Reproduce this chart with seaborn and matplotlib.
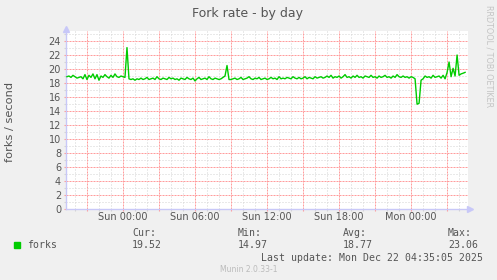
import numpy as np
import pandas as pd
import matplotlib
matplotlib.use("Agg")
import matplotlib.pyplot as plt
from matplotlib.ticker import MultipleLocator, FuncFormatter
import seaborn as sns

# ---- data (fork rate samples, one every 10 minutes) ----
start_hour = -4.64          # hours relative to Sun 00:00
step_hours = 1.0 / 6.0
forks = [
    18.9, 19.0, 18.8, 19.1, 18.9, 18.7, 18.8, 18.9, 18.6, 19.2,
    18.5, 19.1, 18.8, 19.3, 18.6, 19.2, 18.4, 19.0, 18.8, 19.2,
    18.9, 18.7, 19.1, 18.8, 19.3, 18.9, 18.8, 19.0, 18.9, 18.8,
    23.06, 18.6,
    18.5, 18.6, 18.4, 18.6, 18.5, 18.7, 18.5, 18.6, 18.8, 18.5,
    18.6, 18.7, 18.5, 18.9, 18.6, 18.5, 18.7, 18.6, 18.5, 18.8,
    18.6, 18.7, 18.5, 18.6, 18.4, 18.7, 18.6, 18.5, 18.8, 18.6,
    18.5, 18.7, 18.3, 18.6, 18.8, 18.5, 18.6, 18.7, 18.5, 18.9,
    18.6, 18.5, 18.7, 18.6, 18.5, 18.6, 18.8, 19.0,
    20.5, 18.5,
    18.5, 18.6, 18.7, 18.5, 18.6, 18.8, 18.5, 18.6, 18.7, 18.9,
    18.6, 18.5, 18.7, 18.6, 18.8, 18.5, 18.6, 18.7, 18.5, 18.6,
    18.8, 18.6, 18.7, 18.5, 18.9, 18.6, 18.7, 18.6, 18.8, 18.7,
    18.6, 18.9, 18.7, 18.6, 18.8, 18.6, 18.7, 18.9, 18.6, 18.8,
    18.7, 18.6, 18.9, 18.7, 18.8, 18.9, 18.7, 18.8, 19.0,
    18.8, 19.1, 18.7, 18.9, 18.8, 19.0, 18.7, 18.9, 19.2, 18.8,
    18.9, 18.7, 19.0, 18.8, 19.1, 18.8, 18.9, 18.7, 19.0, 18.9,
    18.8, 19.1, 18.8, 18.9, 18.7, 19.0, 18.8, 18.9, 19.1, 18.8,
    18.9, 18.7, 19.0, 18.8, 19.2, 18.9, 18.8, 19.0, 18.8, 18.9,
    18.7, 18.9, 18.8,
    18.6, 14.97, 15.1, 18.4,
    18.6, 19.0, 18.8, 18.9, 18.7, 19.1, 18.8, 18.9, 19.0, 18.7, 19.1,
    18.6, 19.5, 21.0, 18.9, 20.1, 19.0, 22.0, 19.1, 19.3, 19.4, 19.52,
]
hours = start_hour + np.arange(len(forks)) * step_hours
df = pd.DataFrame({"hour": hours, "forks": forks})

day_labels = {0: "Sun 00:00", 6: "Sun 06:00", 12: "Sun 12:00",
              18: "Sun 18:00", 24: "Mon 00:00"}
stat_names = ["Cur:", "Min:", "Avg:", "Max:"]
stat_values = ["19.52", "14.97", "18.77", "23.06"]

# ---- figure ----
W, H = 497, 280
fig = plt.figure(figsize=(W / 100, H / 100), dpi=100, facecolor="#F0F0F0")
px_l, px_r, px_t, px_b = 66, 468, 31, 209
ax = fig.add_axes([px_l / W, 1 - px_b / H, (px_r - px_l) / W, (px_b - px_t) / H])
ax.set_facecolor("white")

sns.lineplot(data=df, x="hour", y="forks", ax=ax, color="#00CC00",
             linewidth=1.0, zorder=3)

xlo, xhi = -4.72, 28.77
ylo, yhi = 0, 25.43
ax.set_xlim(xlo, xhi)
ax.set_ylim(ylo, yhi)

ax.xaxis.set_major_locator(MultipleLocator(3))
ax.xaxis.set_minor_locator(MultipleLocator(1))
ax.xaxis.set_major_formatter(FuncFormatter(
    lambda v, p: day_labels.get(int(round(v)), "") if abs(v - round(v)) < 1e-6 else ""))
ax.yaxis.set_major_locator(MultipleLocator(2))
ax.yaxis.set_minor_locator(MultipleLocator(1))
ax.yaxis.set_major_formatter(FuncFormatter(lambda v, p: f"{int(round(v))}"))

red = "#FF9C9C"
grey = "#D4D4D4"
ax.grid(False)
# grid lines (minor grey dotted, major red dashed)
for h in np.arange(np.ceil(xlo), xhi, 1.0):
    if abs(h % 3) < 1e-9:
        ax.axvline(h, color=red, linestyle=(0, (2, 1)), linewidth=0.72, zorder=1)
    else:
        ax.axvline(h, color=grey, linestyle=(0, (1, 2)), linewidth=0.72, zorder=0.5)
for v in np.arange(1, yhi, 1.0):
    if int(v) % 2 == 0:
        ax.axhline(v, color=red, linestyle=(0, (2, 1)), linewidth=0.72, zorder=1)
    else:
        ax.axhline(v, color=grey, linestyle=(0, (1, 2)), linewidth=0.72, zorder=0.5)

ax.tick_params(axis="both", which="major", length=1.6, width=0.8, color=red,
               labelsize=7, labelcolor="#555555", pad=2)
ax.tick_params(axis="both", which="minor", length=1.4, width=0.8, color=grey)
ax.tick_params(axis="x", which="major", pad=0.8)

for s in ["top", "right"]:
    ax.spines[s].set_visible(False)
for s in ["left", "bottom"]:
    ax.spines[s].set_color("#C8C8F8")
    ax.spines[s].set_linewidth(1.0)

# axis arrows
ax.plot([0], [1.01], marker="^", color="#C8C8F8", markersize=4,
        transform=ax.transAxes, clip_on=False)
ax.plot([1.006], [0], marker=">", color="#C8C8F8", markersize=4,
        transform=ax.transAxes, clip_on=False)

ax.set_xlabel("")
ax.set_ylabel("")

# texts
fig.text(248 / W, 1 - 13.5 / H, "Fork rate - by day", ha="center", va="center",
         fontsize=9, color="#555555")
fig.text(10.5 / W, 1 - 122 / H, "forks / second", ha="center", va="center",
         rotation=90, fontsize=8.2, color="#555555")
fig.text(488.5 / W, 1 - 56.5 / H, "RRDTOOL / TOBI OETIKER", ha="center", va="center",
         rotation=270, fontsize=5.8, color="#C4C4C4")

mono = "DejaVu Sans Mono"
fig.patches.append(plt.Rectangle((14 / W, 1 - 248 / H), 6 / W, 6 / H,
                                 transform=fig.transFigure, color="#00CC00"))
fig.text(27 / W, 1 - 245.5 / H, "forks", ha="left", va="center",
         fontsize=7.1, family=mono, color="#555555")
stat_x = [132, 238, 343, 448]
for x, n, v in zip(stat_x, stat_names, stat_values):
    fig.text(x / W, 1 - 233.5 / H, n, ha="left", va="center",
             fontsize=7.1, family=mono, color="#555555")
    fig.text(x / W, 1 - 245.5 / H, v, ha="left", va="center",
             fontsize=7.1, family=mono, color="#555555")
fig.text(483 / W, 1 - 258 / H, "Last update: Mon Dec 22 04:35:05 2025",
         ha="right", va="center", fontsize=7.1, family=mono, color="#555555")
fig.text(249 / W, 1 - 269.5 / H, "Munin 2.0.33-1", ha="center", va="center",
         fontsize=5.5, color="#BBBBBB")

fig.savefig("out.png", dpi=100, facecolor=fig.get_facecolor())
